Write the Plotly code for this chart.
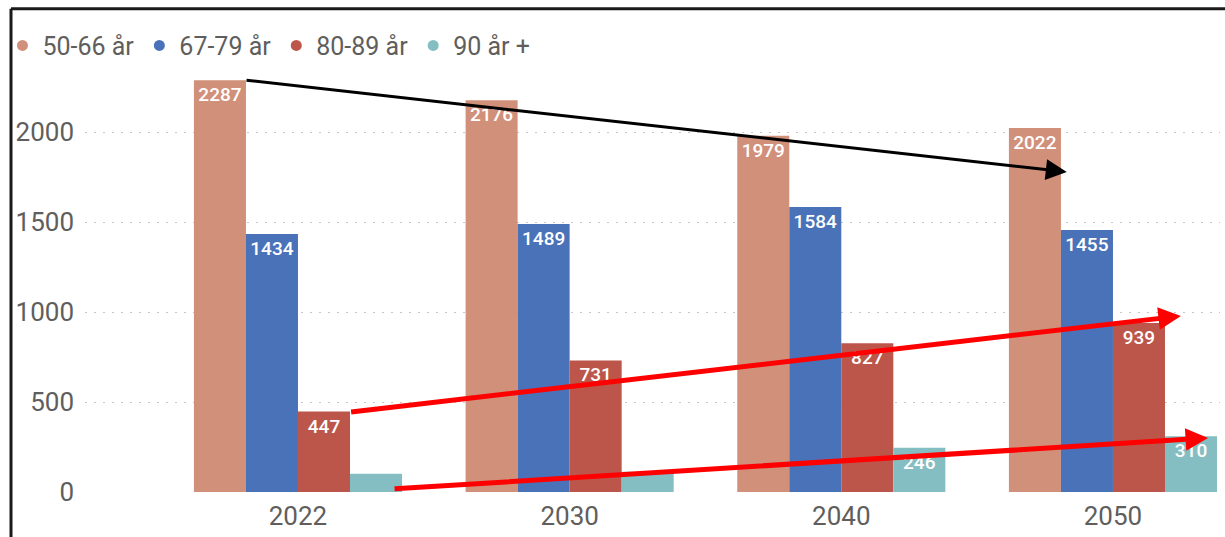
import plotly.graph_objects as go

years = ["2022", "2030", "2040", "2050"]
series_names = ["50-66 år", "67-79 år", "80-89 år", "90 år +"]
v_50_66 = [2287, 2176, 1979, 2022]
v_67_79 = [1434, 1489, 1584, 1455]
v_80_89 = [447, 731, 827, 939]
v_90 = [102, 113, 246, 310]
colors = ["#D1907A", "#4A72B8", "#BC564A", "#85BEC2"]

# trend arrows (tail -> head), in category-index / value units
arrows = [
    dict(tail=(-0.195, 2289), head=(2.83, 1778), color="black", width=3, size=1.4),
    dict(tail=(0.19, 444), head=(3.25, 978), color="#FF0000", width=5, size=0.9),
    dict(tail=(0.35, 17), head=(3.35, 300), color="#FF0000", width=5, size=0.9),
]

FONT = "Roboto"
GRAY = "#605E5C"

fig = go.Figure()
for name, vals, col in zip(series_names, [v_50_66, v_67_79, v_80_89, v_90], colors):
    fig.add_trace(go.Bar(
        x=years, y=vals, name=name, marker=dict(color=col, line=dict(width=0)),
        text=[str(v) if v >= 200 else "" for v in vals],
        textposition="inside", insidetextanchor="end",
        textfont=dict(color="white", size=19, family=FONT, weight=500),
        constraintext="none", showlegend=False,
    ))
    fig.add_trace(go.Scatter(
        x=[None], y=[None], mode="markers", name=name,
        marker=dict(color=col, size=11, symbol="circle"), showlegend=True,
    ))

for a in arrows:
    fig.add_annotation(
        x=a["head"][0], y=a["head"][1], ax=a["tail"][0], ay=a["tail"][1],
        xref="x", yref="y", axref="x", ayref="y", text="",
        showarrow=True, arrowhead=2, arrowsize=a["size"], arrowwidth=a["width"],
        arrowcolor=a["color"],
    )

# outer frame (left and top edges)
fig.add_shape(type="line", xref="paper", yref="paper", x0=-0.0652, x1=1.2, y0=1.167, y1=1.167,
              line=dict(color="#1a1a1a", width=3))
fig.add_shape(type="line", xref="paper", yref="paper", x0=-0.0652, x1=-0.0652, y0=1.167, y1=-0.2,
              line=dict(color="#1a1a1a", width=3))

fig.update_layout(
    width=1225, height=537,
    margin=dict(l=85, r=5, t=78, b=45, autoexpand=False),
    barmode="group", bargap=0.234, bargroupgap=0,
    plot_bgcolor="white", paper_bgcolor="white",
    font=dict(family=FONT, color=GRAY),
    legend=dict(orientation="h", xref="container", yref="container",
                x=0.002, xanchor="left", y=0.915, yanchor="middle",
                font=dict(size=25, color=GRAY, family=FONT), itemwidth=30,
                traceorder="normal", bgcolor="rgba(0,0,0,0)"),
    xaxis=dict(type="category", range=[-0.784, 3.394], showgrid=False, showline=False,
               automargin=False,
               tickfont=dict(size=26, color=GRAY, family=FONT), ticks="", ticklabelstandoff=6),
    yaxis=dict(range=[0, 2300], tickvals=[0, 500, 1000, 1500, 2000], showgrid=True,
               automargin=False,
               gridcolor="#C8C6C4", griddash="2px,7px", gridwidth=1.3, zeroline=False, showline=False,
               tickfont=dict(size=26, color=GRAY, family=FONT), ticks="", ticklabelstandoff=10),
)

fig.write_html("out.html")
